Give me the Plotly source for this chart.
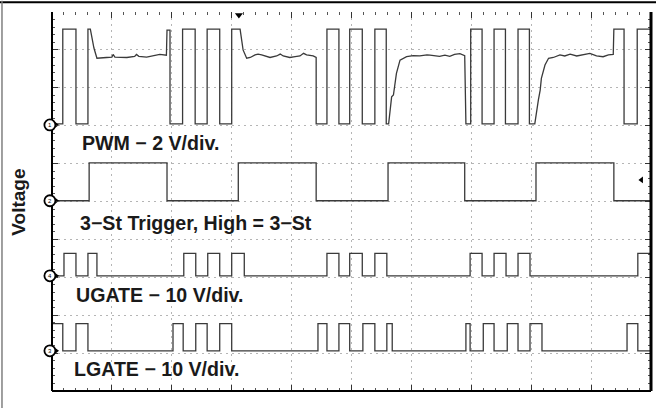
import plotly.graph_objects as go

# ---- data (time in horizontal divisions, level in vertical divisions) ----
pwm_pts = [
    (0.00, 7.05), (0.18, 7.05), (0.18, 9.55), (0.40, 9.55), (0.40, 7.05), (0.60, 7.05),
    (0.60, 9.55), (0.64, 9.55), (0.70, 9.05), (0.75, 8.78), (0.91, 8.80), (1.00, 8.81),
    (1.02, 8.88), (1.05, 8.81), (1.25, 8.80), (1.38, 8.83), (1.41, 8.88), (1.45, 8.83),
    (1.58, 8.81), (1.75, 8.86), (1.80, 8.88), (1.91, 8.86), (1.92, 9.52), (1.97, 9.52),
    (1.97, 7.05), (2.18, 7.05), (2.18, 9.55), (2.39, 9.55), (2.39, 7.05), (2.59, 7.05),
    (2.59, 9.55), (2.80, 9.55), (2.80, 7.05), (3.00, 7.05), (3.00, 9.55), (3.14, 9.55),
    (3.19, 9.00), (3.25, 8.78), (3.31, 8.80), (3.39, 8.87), (3.44, 8.89), (3.50, 8.87),
    (3.58, 8.82), (3.64, 8.80), (3.75, 8.84), (3.81, 8.89), (3.86, 8.84), (3.97, 8.80),
    (4.06, 8.82), (4.14, 8.84), (4.20, 8.91), (4.25, 8.87), (4.36, 8.84), (4.41, 8.80),
    (4.41, 7.05), (4.59, 7.05), (4.59, 9.55), (4.79, 9.55), (4.79, 7.05), (4.97, 7.05),
    (4.97, 9.55), (5.18, 9.55), (5.18, 7.05), (5.39, 7.05), (5.39, 9.55), (5.58, 9.55),
    (5.58, 7.05), (5.62, 7.05), (5.67, 7.76), (5.70, 7.81), (5.75, 8.38), (5.81, 8.73),
    (5.92, 8.82), (6.03, 8.85), (6.14, 8.84), (6.26, 8.87), (6.31, 8.86), (6.39, 8.85),
    (6.47, 8.83), (6.56, 8.86), (6.64, 8.83), (6.72, 8.88), (6.81, 8.90), (6.89, 8.85),
    (6.91, 7.05), (6.99, 7.05), (6.99, 9.55), (7.18, 9.55), (7.18, 7.05), (7.38, 7.05),
    (7.38, 9.55), (7.57, 9.55), (7.57, 7.05), (7.78, 7.05), (7.78, 9.55), (7.97, 9.55),
    (7.97, 7.05), (8.06, 7.05), (8.09, 7.41), (8.12, 7.68), (8.15, 7.94), (8.17, 8.25),
    (8.23, 8.60), (8.29, 8.78), (8.37, 8.80), (8.48, 8.87), (8.56, 8.84), (8.65, 8.89),
    (8.76, 8.84), (8.87, 8.87), (8.98, 8.91), (9.09, 8.84), (9.20, 8.82), (9.29, 8.87),
    (9.37, 8.88), (9.38, 9.55), (9.55, 9.55), (9.55, 7.05), (9.77, 7.05), (9.77, 9.55),
    (10.00, 9.55),
]
pwm_t = [p[0] for p in pwm_pts]
pwm_v = [p[1] for p in pwm_pts]

trig_t = [0.00, 0.62, 1.92, 3.11, 4.41, 5.61, 6.89, 8.08, 9.38, 10.00]
trig_v = [5.02, 6.02, 5.02, 6.02, 5.02, 6.02, 5.02, 6.02, 5.02, 5.02]

ugate_t = [0.00, 0.20, 0.40, 0.60, 0.75, 2.20, 2.40, 2.60, 2.80, 3.00, 3.21, 4.59, 4.79,
           4.97, 5.18, 5.39, 5.59, 6.98, 7.18, 7.38, 7.58, 7.78, 7.98, 9.78, 10.00]
ugate_v = [3.04, 3.63, 3.04, 3.63, 3.04, 3.63, 3.04, 3.63, 3.04, 3.63, 3.04, 3.63, 3.04,
           3.63, 3.04, 3.63, 3.04, 3.63, 3.04, 3.63, 3.04, 3.63, 3.04, 3.63, 3.63]

lgate_t = [0.00, 0.18, 0.40, 0.60, 2.02, 2.19, 2.40, 2.59, 2.80, 3.00, 4.44, 4.59, 4.79,
           4.97, 5.19, 5.39, 5.59, 5.68, 6.91, 6.98, 7.20, 7.38, 7.60, 7.78, 7.98, 8.18,
           9.60, 9.78, 10.00]
lgate_v = [1.78, 1.06, 1.78, 1.06, 1.78, 1.06, 1.78, 1.06, 1.78, 1.06, 1.78, 1.06, 1.78,
           1.06, 1.78, 1.06, 1.78, 1.06, 1.78, 1.06, 1.78, 1.06, 1.78, 1.06, 1.78, 1.06,
           1.78, 1.06, 1.06]

channel_labels = ["PWM − 2 V/div.", "3−St Trigger, High = 3−St",
                  "UGATE − 10 V/div.", "LGATE − 10 V/div."]
label_t = [0.47, 0.44, 0.37, 0.34]
label_y = [6.54, 4.43, 2.53, 0.58]
ground_levels = [7.02, 5.02, 3.04, 1.06]
ground_ids = ["1", "2", "4", "3"]
y_title = "Voltage"

# ---- figure ----
TRACE = "#3a3a3a"
fig = go.Figure()
fig.add_trace(go.Scatter(x=pwm_t, y=pwm_v, mode="lines",
                         line=dict(color=TRACE, width=1.3), hoverinfo="skip"))
for tt, vv in [(trig_t, trig_v), (ugate_t, ugate_v), (lgate_t, lgate_v)]:
    fig.add_trace(go.Scatter(x=tt, y=vv, mode="lines", line_shape="hv",
                             line=dict(color=TRACE, width=1.3), hoverinfo="skip"))

# ground reference arrows
fig.add_trace(go.Scatter(x=[0.075] * 4, y=ground_levels, mode="markers",
                         marker=dict(symbol="triangle-right", size=5, color="black"),
                         cliponaxis=False, hoverinfo="skip"))
# trigger position / level markers
fig.add_trace(go.Scatter(x=[3.12], y=[9.92], mode="markers",
                         marker=dict(symbol="triangle-down", size=7, color="black"),
                         cliponaxis=False, hoverinfo="skip"))
fig.add_trace(go.Scatter(x=[9.84], y=[5.57], mode="markers",
                         marker=dict(symbol="triangle-left", size=6, color="black"),
                         cliponaxis=False, hoverinfo="skip"))

FONT = "Liberation Sans, Arial, Helvetica, sans-serif"
for txt, lx, ly in zip(channel_labels, label_t, label_y):
    fig.add_annotation(x=lx, y=ly, text="<b>" + txt + "</b>", showarrow=False,
                       xanchor="left", yanchor="middle",
                       font=dict(family=FONT, size=19.6, color="#1a1a1a"))

fig.add_annotation(xref="paper", yref="paper", x=-0.056, y=0.498,
                   text="<b>" + y_title + "</b>", textangle=-90, showarrow=False,
                   xanchor="center", yanchor="middle",
                   font=dict(family=FONT, size=19, color="#1a1a1a"))

shapes = [
    # plot box (no top edge)
    dict(type="line", xref="paper", yref="paper", x0=0, x1=0, y0=0, y1=1,
         line=dict(color="black", width=2)),
    dict(type="line", xref="paper", yref="paper", x0=0, x1=1, y0=0, y1=0,
         line=dict(color="black", width=2)),
    dict(type="line", xref="paper", yref="paper", x0=1, x1=1, y0=0, y1=1,
         line=dict(color="black", width=3)),
    # outer frame
    dict(type="line", xref="paper", yref="paper", x0=-0.09, x1=1.01, y0=1.026, y1=1.026,
         line=dict(color="black", width=2)),
    dict(type="line", xref="paper", yref="paper", x0=-0.0835, x1=-0.0835, y0=-0.05, y1=1.03,
         line=dict(color="#808080", width=1.5)),
]
# ground reference circles with channel numbers (paper coords: y range 0-10 -> 0-1)
for lvl, cid in zip(ground_levels, ground_ids):
    shapes.append(dict(type="circle", xref="paper", yref="paper",
                       xsizemode="pixel", ysizemode="pixel",
                       xanchor=-0.0035, yanchor=lvl / 10.0, x0=-5.5, x1=5.5, y0=-5.5, y1=5.5,
                       line=dict(color="black", width=1.8), fillcolor="white"))
    fig.add_annotation(xref="paper", yref="paper", x=-0.0035, y=lvl / 10.0, text=cid,
                       showarrow=False, xanchor="center", yanchor="middle",
                       font=dict(family=FONT, size=6, color="black"))

axis_common = dict(
    showline=False, zeroline=False, showticklabels=False,
    showgrid=True, gridcolor="#b5b5b5", gridwidth=1, griddash="2px,4px",
    ticks="inside", ticklen=6, tickwidth=1, tickcolor="#333",
    dtick=1, tick0=0, mirror="allticks", fixedrange=True,
    minor=dict(ticks="inside", ticklen=3, tickcolor="#555", dtick=0.2, tick0=0,
               showgrid=False),
)
fig.update_xaxes(range=[0, 10], **axis_common)
fig.update_yaxes(range=[0, 10], **axis_common)

fig.update_layout(
    width=656, height=408,
    margin=dict(l=52, r=5, t=12, b=17),
    paper_bgcolor="white", plot_bgcolor="white",
    showlegend=False, shapes=shapes,
)

fig.write_html("out.html", config={"displayModeBar": False},
               post_script="document.body.style.margin='0px';document.body.style.overflow='hidden';")
